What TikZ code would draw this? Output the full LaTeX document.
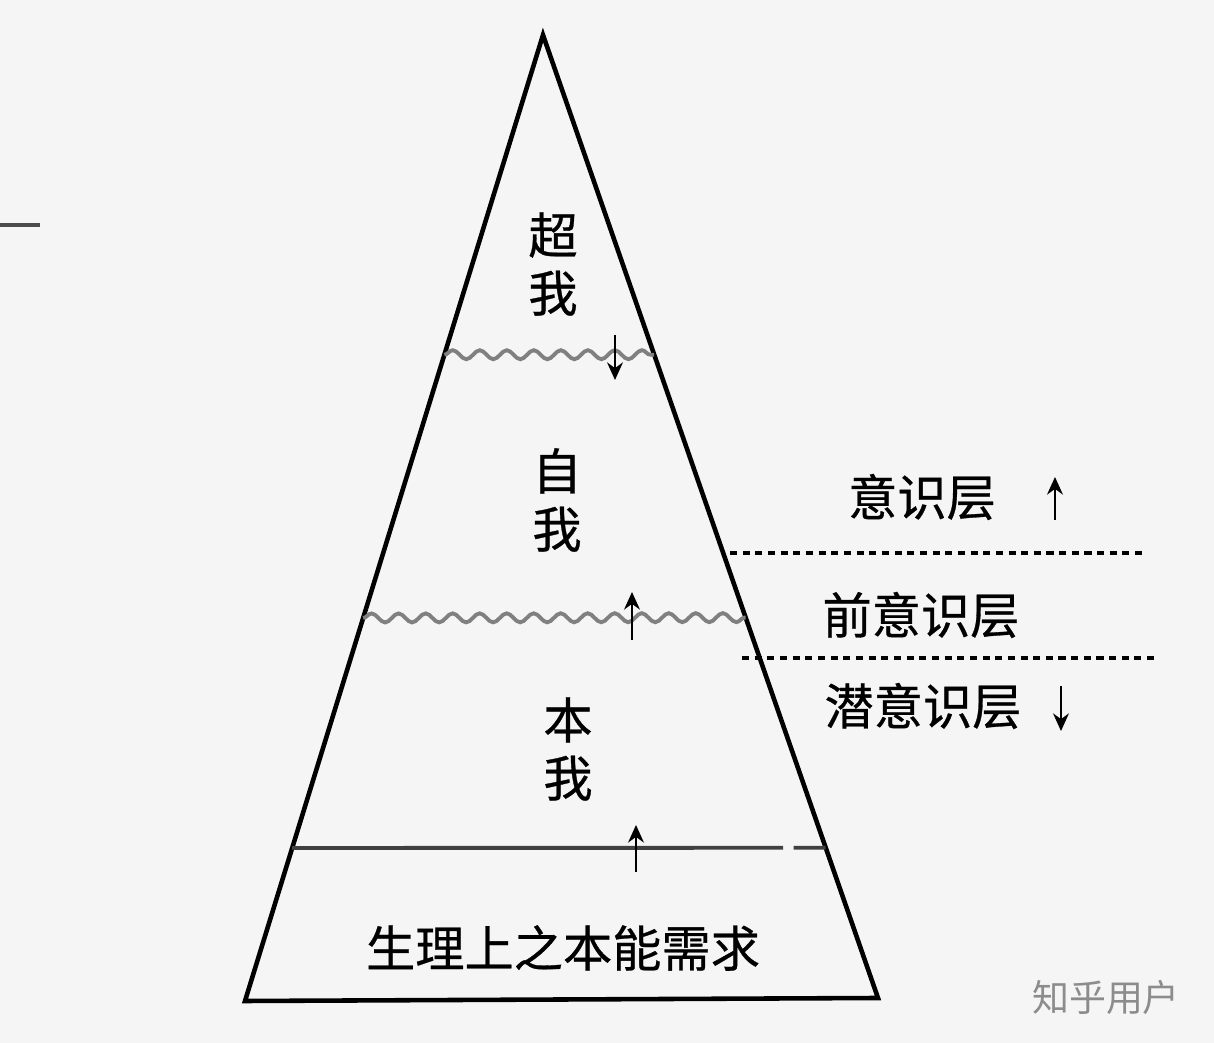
\documentclass[tikz,border=0pt]{standalone}
\usepackage{fontspec}
\newfontfamily\cjk[FakeBold=0.6]{Noto Sans CJK SC}
\newfontfamily\cjkmark{Noto Sans CJK SC}
\usetikzlibrary{arrows.meta,calc,decorations.pathmorphing}

\tikzset{
  edge/.style={line width=1.3pt},
  wavy/.style={draw=black!50, line width=1.1pt, decorate,
    decoration={snake, segment length=0.27cm, amplitude=0.045cm}},
  flow/.style={line width=0.7pt, -{Stealth[length=5pt,width=4.5pt]}},
  layerline/.style={line width=0.9pt, dash pattern=on 2pt off 1.6pt},
  part/.style={font=\cjk\fontsize{14}{16.5}\selectfont, align=center, inner sep=0pt},
  level/.style={font=\cjk\fontsize{14}{16.5}\selectfont, inner sep=0pt},
}

\begin{document}
\begin{tikzpicture}[x=0.01cm, y=-0.01cm]
\fill[black!4] (0,0) rectangle (1214,1043);
\useasboundingbox (0,0) rectangle (1214,1043);

% the pyramid
\coordinate (apex) at (543,35);
\coordinate (bl) at (245,1001);
\coordinate (br) at (878,998);
\draw[edge] (apex) -- (bl) -- (br) -- cycle;

% borders between the parts
\coordinate (w1l) at ($(apex)!0.331!(bl)$);
\coordinate (w1r) at ($(apex)!0.332!(br)$);
\coordinate (w2l) at ($(apex)!0.6035!(bl)$);
\coordinate (w2r) at ($(apex)!0.605!(br)$);
\coordinate (s1l) at ($(apex)!0.8416!(bl)$);
\coordinate (s1r) at ($(apex)!0.844!(br)$);
\draw[wavy] (w1l) -- (w1r);
\draw[wavy] (w2l) -- (w2r);
\draw[black!75, line width=1.1pt] (s1l) -- ($(s1l)!0.92!(s1r)$);
\draw[black!75, line width=1.1pt] ($(s1l)!0.94!(s1r)$) -- (s1r);

\draw[flow] (615,335) -- (615,380);
\draw[flow] (632,640) -- (632,592);
\draw[flow] (636,872) -- (636,825);

\node[part] (superego) at (553,264) {超\\我};
\node[part] (ego) at (557,500) {自\\我};
\node[part] (id) at (568,749) {本\\我};
\node[level] (instinct) at (563,948) {生理上之本能需求};

% levels of consciousness
\draw[layerline] (730,553) -- (1145,553);
\draw[layerline] (742,658) -- (1155,658);
\node[level] (conscious) at (922,497) {意识层};
\node[level] (preconscious) at (921,615) {前意识层};
\node[level] (unconscious) at (923,706) {潜意识层};
\draw[flow] (1055,520) -- (1055,477);
\draw[flow] (1061,686) -- (1061,731);

\draw[black!70, line width=1pt] (0,225) -- (40,225);
\node[font=\cjkmark\fontsize{10.5}{12}\selectfont, text=black!45] (mark) at (1106,997) {知乎用户};
\end{tikzpicture}
\end{document}
